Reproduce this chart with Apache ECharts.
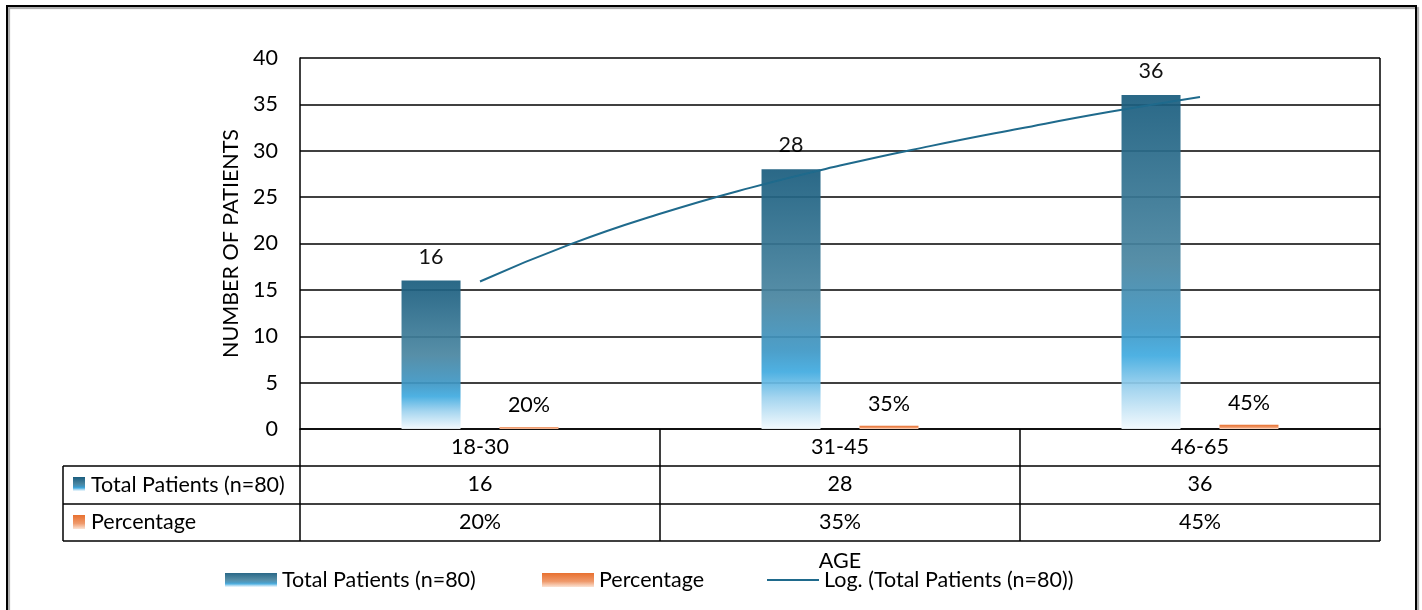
<!DOCTYPE html>
<html>
<head>
<meta charset="utf-8">
<script src="https://cdn.jsdelivr.net/npm/echarts@6/dist/echarts.min.js"></script>
<style>
html,body{margin:0;padding:0;background:#fff;}
#chart{width:1422px;height:610px;}
</style>
</head>
<body>
<div id="chart"></div>
<script>
// ---- data ----
var categories = ['18-30', '31-45', '46-65'];
var totalPatients = [16, 28, 36];
var percentage = [0.20, 0.35, 0.45];
var yTicks = [0, 5, 10, 15, 20, 25, 30, 35, 40];
// logarithmic trendline (x = category position 1..3)
var trendX = [1, 1.25, 1.5, 1.75, 2, 2.25, 2.5, 2.75, 3];
var trendY = [15.9, 19.9, 23.2, 26.0, 28.4, 30.5, 32.4, 34.2, 35.8];

var seriesNames = ['Total Patients (n=80)', 'Percentage', 'Log. (Total Patients (n=80))'];

var FONT = 'Lato';
var FS = 21.5;
var blueGrad = new echarts.graphic.LinearGradient(0, 0, 0, 1, [
  {offset: 0, color: '#1a5d7e'},
  {offset: 0.5, color: '#4a86a1'},
  {offset: 0.7, color: '#3f98c6'},
  {offset: 0.78, color: '#41abe0'},
  {offset: 0.88, color: '#9ed2ee'},
  {offset: 1, color: '#f2f9fd'}
]);
var orangeGrad = new echarts.graphic.LinearGradient(0, 0, 0, 1, [
  {offset: 0, color: '#e8702f'},
  {offset: 0.6, color: '#ef9a6c'},
  {offset: 1, color: '#fbe3d4'}
]);

var chart = echarts.init(document.getElementById('chart'), null, {renderer: 'canvas'});

var GL = 300, GR = 1380, GT = 58, GB = 429;
var rowH = [429, 466, 504, 541];

function legendAt(left, name, extra) {
  var d = {name: name};
  if (extra) { for (var k in extra) d[k] = extra[k]; }
  return {
    left: left, top: 564,
    itemWidth: 52, itemHeight: 14, itemGap: 0,
    textStyle: {fontFamily: FONT, fontSize: FS, color: '#000'},
    data: [d]
  };
}

var option = {
  animation: false,
  textStyle: {fontFamily: FONT},
  grid: {left: GL, right: 1422 - GR, top: GT, bottom: 610 - GB, containLabel: false},
  legend: [
    legendAt(220, seriesNames[0], {icon: 'rect'}),
    legendAt(537, seriesNames[1], {icon: 'rect'}),
    legendAt(761, seriesNames[2], {itemStyle: {opacity: 0}})
  ],
  xAxis: [
    {
      type: 'category', data: categories, gridIndex: 0, position: 'bottom',
      axisLine: {show: true, lineStyle: {color: '#000', width: 1.5}},
      axisTick: {show: true, length: rowH[3] - rowH[0], lineStyle: {color: '#000', width: 1.5}},
      axisLabel: {margin: 7, fontSize: FS, color: '#000', fontFamily: FONT},
      name: 'AGE', nameLocation: 'middle', nameGap: 121,
      nameTextStyle: {fontSize: FS, color: '#000', fontFamily: FONT}
    },
    {
      type: 'category', data: totalPatients.map(String), gridIndex: 0, position: 'bottom', offset: rowH[1] - rowH[0],
      axisLine: {show: false}, axisTick: {show: false},
      axisLabel: {margin: 7, fontSize: FS, color: '#000', fontFamily: FONT}
    },
    {
      type: 'category', data: percentage.map(function (v) { return Math.round(v * 100) + '%'; }),
      gridIndex: 0, position: 'bottom', offset: rowH[2] - rowH[0],
      axisLine: {show: false}, axisTick: {show: false},
      axisLabel: {margin: 7, fontSize: FS, color: '#000', fontFamily: FONT}
    },
    {
      type: 'value', min: 0.5, max: 3.5, show: false, gridIndex: 0
    }
  ],
  yAxis: [{
    type: 'value', min: 0, max: 40, interval: 5,
    axisLine: {show: true, lineStyle: {color: '#000', width: 1.5}},
    axisTick: {show: false},
    axisLabel: {margin: 22, fontSize: FS, color: '#000', fontFamily: FONT},
    splitLine: {show: true, lineStyle: {color: '#000', width: 1.5}},
    name: 'NUMBER OF PATIENTS', nameLocation: 'middle', nameGap: 57, nameRotate: 90,
    nameTextStyle: {fontSize: FS, color: '#000', fontFamily: FONT}
  }],
  series: [
    {
      name: seriesNames[0], type: 'bar', xAxisIndex: 0, data: totalPatients,
      barWidth: 59, barGap: '66%',
      itemStyle: {color: blueGrad, opacity: 0.93},
      label: {show: true, position: 'top', distance: 13, fontSize: FS, color: '#000', fontFamily: FONT}
    },
    {
      name: seriesNames[1], type: 'bar', xAxisIndex: 0, data: percentage,
      barWidth: 59, barGap: '66%',
      itemStyle: {color: orangeGrad},
      label: {show: true, position: 'top', distance: 11, fontSize: FS, color: '#000', fontFamily: FONT,
        formatter: function (p) { return Math.round(p.value * 100) + '%'; }}
    },
    {
      name: seriesNames[2], type: 'line', xAxisIndex: 3,
      data: trendX.map(function (x, i) { return [x, trendY[i]]; }),
      smooth: true, symbol: 'none', z: 5,
      lineStyle: {color: '#1f6a8c', width: 2},
      itemStyle: {color: '#1f6a8c'}
    }
  ],
  graphic: []
};

function hline(x1, x2, y) {
  return {type: 'line', shape: {x1: x1, y1: y, x2: x2, y2: y}, style: {stroke: '#000', lineWidth: 1.5}, silent: true};
}
function vline(x, y1, y2) {
  return {type: 'line', shape: {x1: x, y1: y1, x2: x, y2: y2}, style: {stroke: '#000', lineWidth: 1.5}, silent: true};
}
var g = [];
// outer chart border
g.push({type: 'rect', shape: {x: 7, y: 6, width: 1409, height: 640}, style: {fill: 'none', stroke: '#000', lineWidth: 2, shadowColor: 'rgba(0,0,0,0.35)', shadowOffsetX: 2, shadowOffsetY: 2, shadowBlur: 1}, silent: true, z: 0});
// plot right border
g.push(vline(GR, GT, GB));
// data table lines
g.push(hline(63, GR, rowH[1]));
g.push(hline(63, GR, rowH[2]));
g.push(hline(63, GR, rowH[3]));
g.push(vline(63, rowH[1], rowH[3]));
// table legend keys and series names
g.push({type: 'rect', shape: {x: 73, y: 477, width: 12, height: 14}, style: {fill: blueGrad}, silent: true});
g.push({type: 'text', x: 91, y: (rowH[1] + rowH[2]) / 2, style: {text: seriesNames[0], fontSize: FS, fontFamily: FONT, fill: '#000', verticalAlign: 'middle'}, silent: true});
g.push({type: 'rect', shape: {x: 73, y: 515, width: 12, height: 14}, style: {fill: orangeGrad}, silent: true});
g.push({type: 'text', x: 91, y: (rowH[2] + rowH[3]) / 2, style: {text: seriesNames[1], fontSize: FS, fontFamily: FONT, fill: '#000', verticalAlign: 'middle'}, silent: true});
option.graphic = g;

chart.setOption(option);
</script>
</body>
</html>
